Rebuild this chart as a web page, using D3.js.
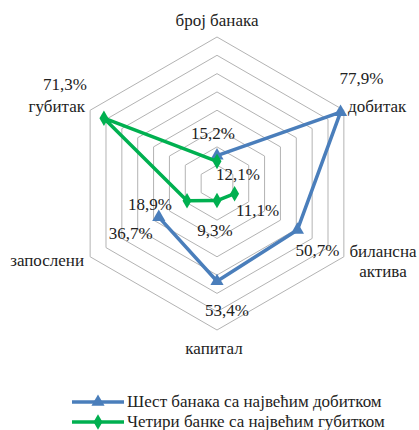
<!DOCTYPE html>
<html>
<head>
<meta charset="utf-8">
<script src="https://cdn.jsdelivr.net/npm/d3@7"></script>
</head>
<body style="margin:0">
<div id="vis"></div>
<script>
// axes of the radar, clockwise from the top
var axes = ['број банака', 'добитак', 'билансна актива', 'капитал', 'запослени', 'губитак'];
var seriesNames = ['Шест банака са највећим добитком', 'Четири банке са највећим губитком'];
// null = no value (line is broken there)
var sixBanks = [15.2, 77.9, 50.7, 53.4, 36.7, null];
var fourBanks = [12.1, null, 11.1, 9.3, 18.9, 71.3];
var ringValues = [10, 20, 30, 40, 50, 60, 70, 80];

var colors = ['#4a7ebb', '#00b050'];

// label offsets from their point (layout only)
var labelOffsets = [
    [[-4, -17], [21, -28], [20, 26], [10, 35], [-28, 22], null],
    [[21, 19], null, [23, 22], [-2, 35], [-37, 9], [-39, -28]]
];

var width = 419, height = 430;
var cx = 217, cy = 183.5, R = 146.5;

var svg = d3.select('#vis').append('svg')
    .attr('width', width)
    .attr('height', height);

var rScale = d3.scaleLinear().domain([0, 80]).range([0, R]);
var angle = function(i) { return i * Math.PI * 2 / axes.length; };
var px = function(i, v) { return cx + rScale(v) * Math.sin(angle(i)); };
var py = function(i, v) { return cy - rScale(v) * Math.cos(angle(i)); };

var g = svg.append('g');

// grid rings
g.selectAll('.ring').data(ringValues).enter()
    .append('polygon')
    .attr('class', 'ring')
    .attr('points', function(v) {
        return axes.map(function(a, i) { return px(i, v) + ',' + py(i, v); }).join(' ');
    })
    .attr('fill', 'none')
    .attr('stroke', '#b3b3b3')
    .attr('stroke-width', 1);

// axis labels
var axisLab = [
    {x: 217, y: 26, anchor: 'middle', lines: ['број банака']},
    {x: 348, y: 112, anchor: 'start', lines: ['добитак']},
    {x: 383, y: 257, anchor: 'middle', lines: ['билансна', 'актива']},
    {x: 214, y: 354, anchor: 'middle', lines: ['капитал']},
    {x: 84, y: 266, anchor: 'end', lines: ['запослени']},
    {x: 85, y: 112, anchor: 'end', lines: ['губитак']}
];
axisLab.forEach(function(a) {
    a.lines.forEach(function(l, k) {
        svg.append('text')
            .attr('x', a.x).attr('y', a.y + k * 20)
            .attr('text-anchor', a.anchor)
            .attr('font-family', 'Liberation Serif')
            .attr('font-size', 17)
            .attr('fill', '#222')
            .text(l);
    });
});

var allSeries = [sixBanks, fourBanks];

var line = d3.line()
    .x(function(d) { return px(d.i, d.v); })
    .y(function(d) { return py(d.i, d.v); });

var triangle = d3.symbol().type(d3.symbolTriangle).size(75);
var diamond = d3.symbol().type(d3.symbolDiamond).size(70);

allSeries.forEach(function(values, s) {
    var n = values.length;
    var gap = values.indexOf(null);
    var pts = [];
    for (var k = 1; k <= n; k++) {
        var idx = (gap + k) % n;
        if (values[idx] !== null) pts.push({i: idx, v: values[idx]});
    }
    g.append('path')
        .attr('d', line(pts))
        .attr('fill', 'none')
        .attr('stroke', colors[s])
        .attr('stroke-width', 3.5)
        .attr('stroke-linejoin', 'round');

    g.selectAll('.m' + s).data(pts).enter()
        .append('path')
        .attr('class', 'm' + s)
        .attr('d', s === 0 ? triangle : diamond)
        .attr('transform', function(d) { return 'translate(' + px(d.i, d.v) + ',' + py(d.i, d.v) + ')'; })
        .attr('fill', colors[s]);

    pts.forEach(function(d) {
        svg.append('text')
            .attr('x', px(d.i, d.v) + labelOffsets[s][d.i][0])
            .attr('y', py(d.i, d.v) + labelOffsets[s][d.i][1])
            .attr('text-anchor', 'middle')
            .attr('font-family', 'Liberation Serif')
            .attr('font-size', 17)
            .attr('fill', '#222')
            .text(d3.format('.1f')(d.v).replace('.', ',') + '%');
    });
});

// legend
seriesNames.forEach(function(name, s) {
    var y = 402 + s * 20;
    svg.append('line')
        .attr('x1', 72).attr('x2', 124)
        .attr('y1', y).attr('y2', y)
        .attr('stroke', colors[s])
        .attr('stroke-width', 3.5);
    svg.append('path')
        .attr('d', s === 0 ? triangle : diamond)
        .attr('transform', 'translate(98,' + y + ')')
        .attr('fill', colors[s]);
    svg.append('text')
        .attr('x', 127).attr('y', y + 5)
        .attr('font-family', 'Liberation Serif')
        .attr('font-size', 17)
        .attr('fill', '#222')
        .text(name);
});
</script>
</body>
</html>
